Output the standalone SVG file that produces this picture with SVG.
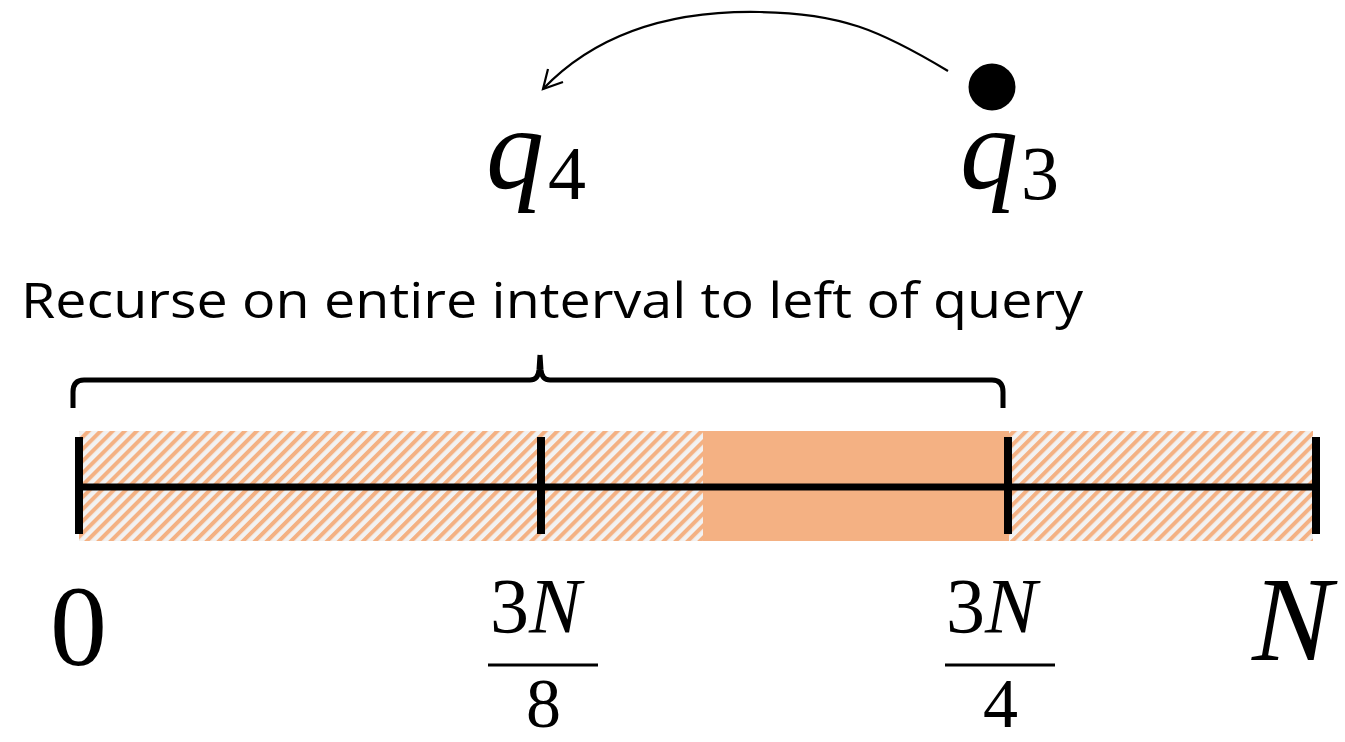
<svg xmlns="http://www.w3.org/2000/svg" width="1345" height="742" viewBox="0 0 1345 742">
<style>
.math{font-family:"Liberation Serif","DejaVu Serif",serif;fill:#000}
.it{font-style:italic}
.lbl{font-family:"Open Sans","Noto Sans","Liberation Sans",sans-serif;fill:#000}
.tick{stroke:#000;stroke-width:8;fill:none}
.br{stroke:#000;stroke-width:5;fill:none}
.frac{stroke:#000;stroke-width:3}
</style>
<defs>
<pattern id="hatch" patternUnits="userSpaceOnUse" width="8.5" height="8.5" patternTransform="rotate(45)">
<rect width="8.5" height="8.5" fill="#f2f2f2"/>
<rect x="0" y="0" width="4" height="8.5" fill="#f4b183"/>
</pattern>
</defs>
<rect width="1345" height="742" fill="#fff"/>

<g id="bar">
<rect x="79" y="431" width="1234" height="110" fill="url(#hatch)"/>
<rect x="703" y="431" width="306" height="110" fill="#f4b183"/>
<line x1="79" y1="487" x2="1316" y2="487" stroke="#000" stroke-width="7"/>
<line class="tick" x1="79" y1="437" x2="79" y2="534"/>
<line class="tick" x1="541" y1="437" x2="541" y2="534"/>
<line class="tick" x1="1008" y1="437" x2="1008" y2="534"/>
<line class="tick" x1="1316" y1="437" x2="1316" y2="534"/>
</g>

<g id="brace">
<path class="br" d="M73,408 L73,392 Q73,380 84,380 L530,380 Q538,380 539,370 L540,355 M540,355 L541,370 Q542,380 550,380 L992,380 Q1003,380 1003,392 L1003,408"/>
</g>

<g id="label">
<text class="lbl" x="21" y="318" font-size="49" textLength="1062" lengthAdjust="spacingAndGlyphs">Recurse on entire interval to left of query</text>
</g>

<g id="q4">
<text class="math it" x="486" y="188" font-size="116">q</text>
<text class="math" x="548" y="199" font-size="76">4</text>
</g>

<g id="q3">
<circle cx="992" cy="87" r="23.5" fill="#000"/>
<text class="math it" x="960" y="188" font-size="116">q</text>
<text class="math" x="1021" y="199" font-size="76">3</text>
</g>

<g id="connectors">
<path d="M948,71 C880,30 840,13 760,12 C660,10 590,40 543,89" fill="none" stroke="#000" stroke-width="2.2"/>
<path d="M548,69 L543,89 L563,82" fill="none" stroke="#000" stroke-width="2.2"/>
</g>

<g id="lbl0">
<text class="math" x="50" y="665" font-size="114">0</text>
</g>

<g id="lbl38">
<text class="math" x="490" y="632" font-size="78">3<tspan class="it">N</tspan></text>
<line class="frac" x1="488" y1="665" x2="598" y2="665"/>
<text class="math" x="526" y="727" font-size="70">8</text>
</g>

<g id="lbl34">
<text class="math" x="946" y="632" font-size="78">3<tspan class="it">N</tspan></text>
<line class="frac" x1="945" y1="665" x2="1055" y2="665"/>
<text class="math" x="983" y="727" font-size="70">4</text>
</g>

<g id="lblN">
<text class="math it" x="1252" y="660" font-size="120">N</text>
</g>
</svg>
